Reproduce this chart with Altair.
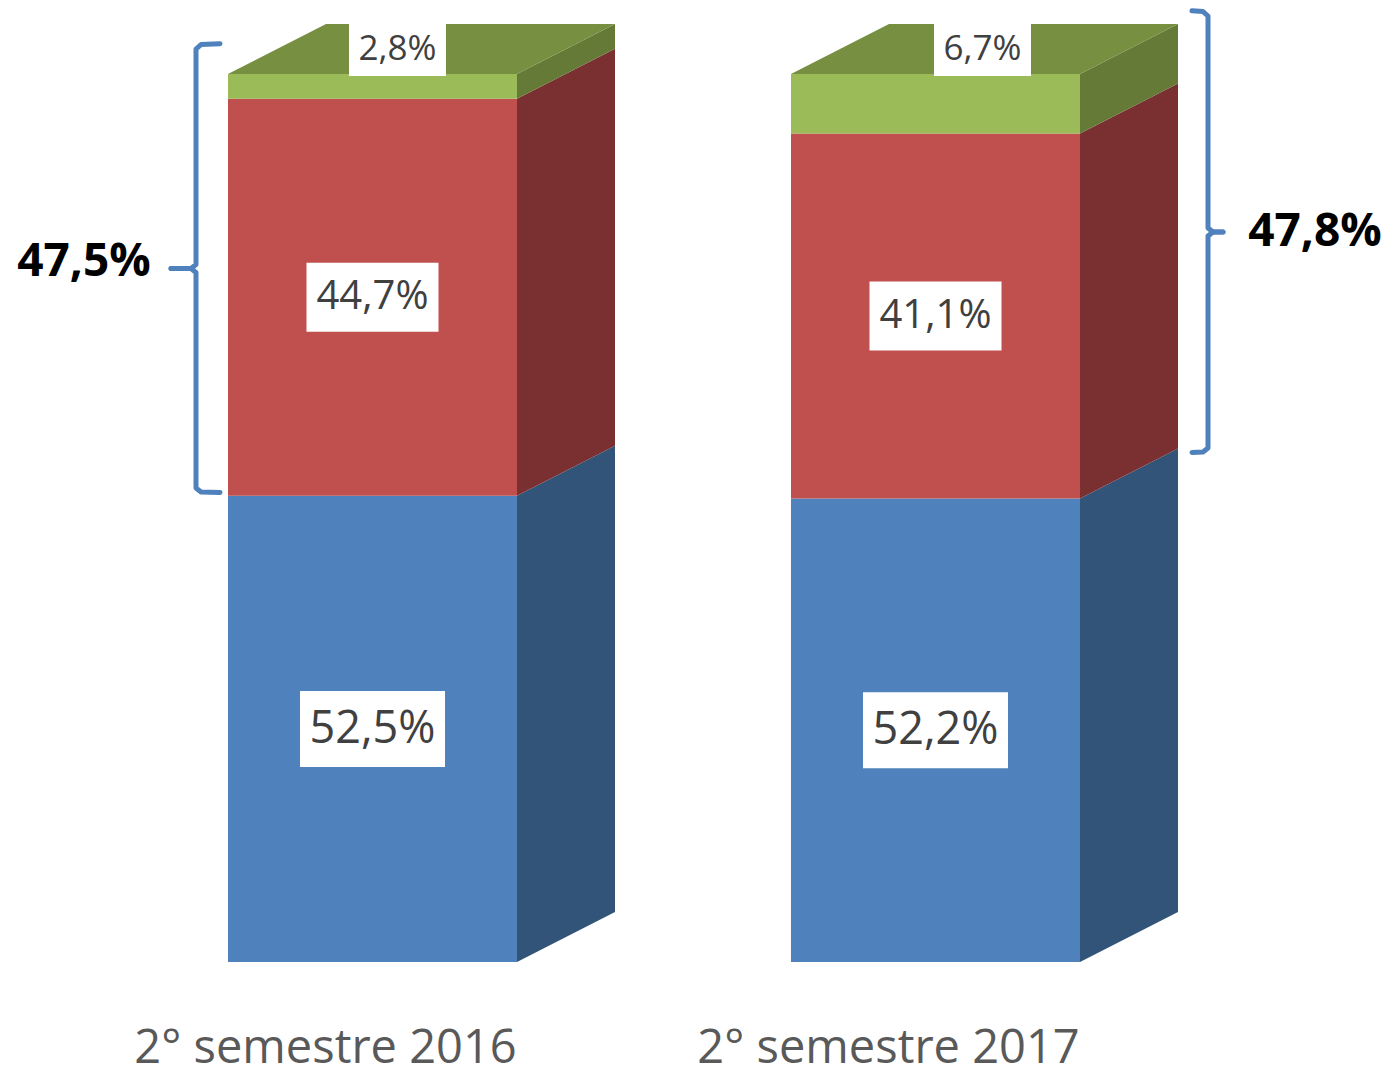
import altair as alt
import pandas as pd

# ---------------- data ----------------
categories = ["2° semestre 2016", "2° semestre 2017"]
series = ["blue", "red", "green"]
blue_vals = [52.5, 52.2]
red_vals = [44.7, 41.1]
green_vals = [2.8, 6.7]
blue_labels = ["52,5%", "52,2%"]
red_labels = ["44,7%", "41,1%"]
green_labels = ["2,8%", "6,7%"]
bracket_labels = ["47,5%", "47,8%"]

# ---------------- style / layout ----------------
W, H = 1388, 1079
PX = 8.88            # pixels per percentage point
BASE = 962           # pixel row of 0 %
bar_left = [228, 791]
bar_w = 289
dx = 98              # depth (px)
dy = 50 / PX         # depth (units)
front_col = {"blue": "#4F81BD", "red": "#C0504D", "green": "#9BBB59"}
side_col = {"blue": "#335479", "red": "#7A3030", "green": "#667A37"}
top_col = "#778F41"
label_font = "Open Sans"
green_label_dx = [-24, -2]
box_px = {"blue": (145, 76), "red": (132, 69), "green": (97, 54)}
font_px = {"blue": 45, "red": 40, "green": 35}

vals = {"blue": blue_vals, "red": red_vals, "green": green_vals}
labs = {"blue": blue_labels, "red": red_labels, "green": green_labels}

fronts, sides, tops, boxes, texts = [], [], [], [], []
for i, cat in enumerate(categories):
    x0 = bar_left[i]
    x1 = x0 + bar_w
    cum = 0.0
    for s in series:
        v = vals[s][i]
        y0, y1 = cum, cum + v
        cum = y1
        fronts.append(dict(x=x0, x2=x1, y=y0, y2=y1, c=front_col[s]))
        key = f"{i}-{s}"
        sides.append(dict(k=key, x=x1, lo=y0, hi=y1, c=side_col[s]))
        sides.append(dict(k=key, x=x1 + dx, lo=y0 + dy, hi=y1 + dy, c=side_col[s]))
        if s == "green":
            cx = (x0 + x1 + dx) / 2 + green_label_dx[i]
            cy = y1 + dy / 2
        else:
            cx = (x0 + x1) / 2
            cy = (y0 + y1) / 2
        bw, bh = box_px[s]
        boxes.append(dict(x=cx - bw / 2, x2=cx + bw / 2,
                          y=cy - bh / 2 / PX, y2=cy + bh / 2 / PX))
        texts.append(dict(x=cx, y=cy, t=labs[s][i], fs=font_px[s]))
    top = cum
    tops.append(dict(k=str(i), y=top, xa=x0, xb=x1))
    tops.append(dict(k=str(i), y=top + dy, xa=x0 + dx, xb=x1 + dx))

fronts = pd.DataFrame(fronts)
sides = pd.DataFrame(sides)
tops = pd.DataFrame(tops)
boxes = pd.DataFrame(boxes)
texts = pd.DataFrame(texts)

xs = alt.Scale(domain=[0, W], nice=False, zero=False)
ys = alt.Scale(domain=[(BASE - H) / PX, BASE / PX], nice=False, zero=False)


def X(f):
    return alt.X(f, type="quantitative", scale=xs, axis=None)


def Y(f):
    return alt.Y(f, type="quantitative", scale=ys, axis=None)


side_layer = alt.Chart(sides).mark_area(strokeWidth=0).encode(
    x=X("x"), y=alt.Y("lo", type="quantitative", scale=ys, axis=None, stack=None),
    y2=alt.Y2("hi"),
    color=alt.Color("c", type="nominal", scale=None), detail=alt.Detail("k", type="nominal"))

front_layer = alt.Chart(fronts).mark_rect().encode(
    x=X("x"), x2=alt.X2("x2"), y=Y("y"), y2=alt.Y2("y2"),
    color=alt.Color("c", type="nominal", scale=None))

top_layer = alt.Chart(tops).mark_area(orient="horizontal", color=top_col).encode(
    y=alt.Y("y", type="quantitative", scale=ys, axis=None),
    x=alt.X("xa", type="quantitative", scale=xs, axis=None, stack=None),
    x2=alt.X2("xb"), detail=alt.Detail("k", type="nominal"))

box_layer = alt.Chart(boxes).mark_rect(color="white").encode(
    x=X("x"), x2=alt.X2("x2"), y=Y("y"), y2=alt.Y2("y2"))

text_layer = alt.Chart(texts).mark_text(font=label_font, color="#404040",
                                        baseline="middle", align="center").encode(
    x=X("x"), y=Y("y"), text=alt.Text("t", type="nominal"),
    size=alt.Size("fs", type="quantitative", scale=None))

cat_df = pd.DataFrame(dict(x=[bar_left[i] + bar_w / 2 - 47 for i in range(2)],
                           y=[(BASE - 1073) / PX] * 2, t=categories))
cat_layer = alt.Chart(cat_df).mark_text(font=label_font, fontSize=47, color="#595959",
                                        baseline="bottom", align="center").encode(
    x=X("x"), y=Y("y"), text=alt.Text("t", type="nominal"))


def bracket(key, xv, xh, xt, lo_px, hi_px):
    lo = (BASE - lo_px) / PX
    hi = (BASE - hi_px) / PX
    mid = (lo + hi) / 2
    r = 4 / PX
    sgn = 1 if xh > xv else -1
    tsg = 1 if xt > xv else -1
    pts_top = [(xh, hi + 0.15), (xv + sgn * 5, hi + 0.05), (xv, hi - r),
               (xv, mid + r), (xv + tsg * 5, mid), (xt, mid)]
    pts_bot = [(xt, mid), (xv + tsg * 5, mid), (xv, mid - r),
               (xv, lo + r), (xv + sgn * 5, lo), (xh, lo - 0.05)]
    rows = []
    for j, (a, b) in enumerate(pts_top):
        rows.append(dict(k=key + "t", o=j, x=a, y=b))
    for j, (a, b) in enumerate(pts_bot):
        rows.append(dict(k=key + "b", o=j, x=a, y=b))
    return rows


br = pd.DataFrame(bracket("a", 196, 220, 171, 492, 45) +
                  bracket("b", 1208, 1192, 1223, 452, 12))
bracket_layer = alt.Chart(br).mark_line(color="#4F81BD", strokeWidth=5,
                                        strokeCap="round", strokeJoin="round").encode(
    x=X("x"), y=Y("y"), detail=alt.Detail("k", type="nominal"),
    order=alt.Order("o", type="quantitative"))

bt = pd.DataFrame(dict(x=[84, 1315], y=[(BASE - 262) / PX, (BASE - 232) / PX],
                       t=bracket_labels))
bt_layer = alt.Chart(bt).mark_text(font=label_font, fontSize=46, fontWeight="bold",
                                   color="black", baseline="middle", align="center").encode(
    x=X("x"), y=Y("y"), text=alt.Text("t", type="nominal"))

chart = alt.layer(side_layer, front_layer, top_layer, box_layer, text_layer,
                  cat_layer, bracket_layer, bt_layer).properties(
    width=W, height=H, padding=0, autosize=alt.AutoSizeParams(type="none"),
    background="white"
).configure_view(stroke=None)

chart.save("out.html", embed_options={"renderer": "svg", "actions": False})
